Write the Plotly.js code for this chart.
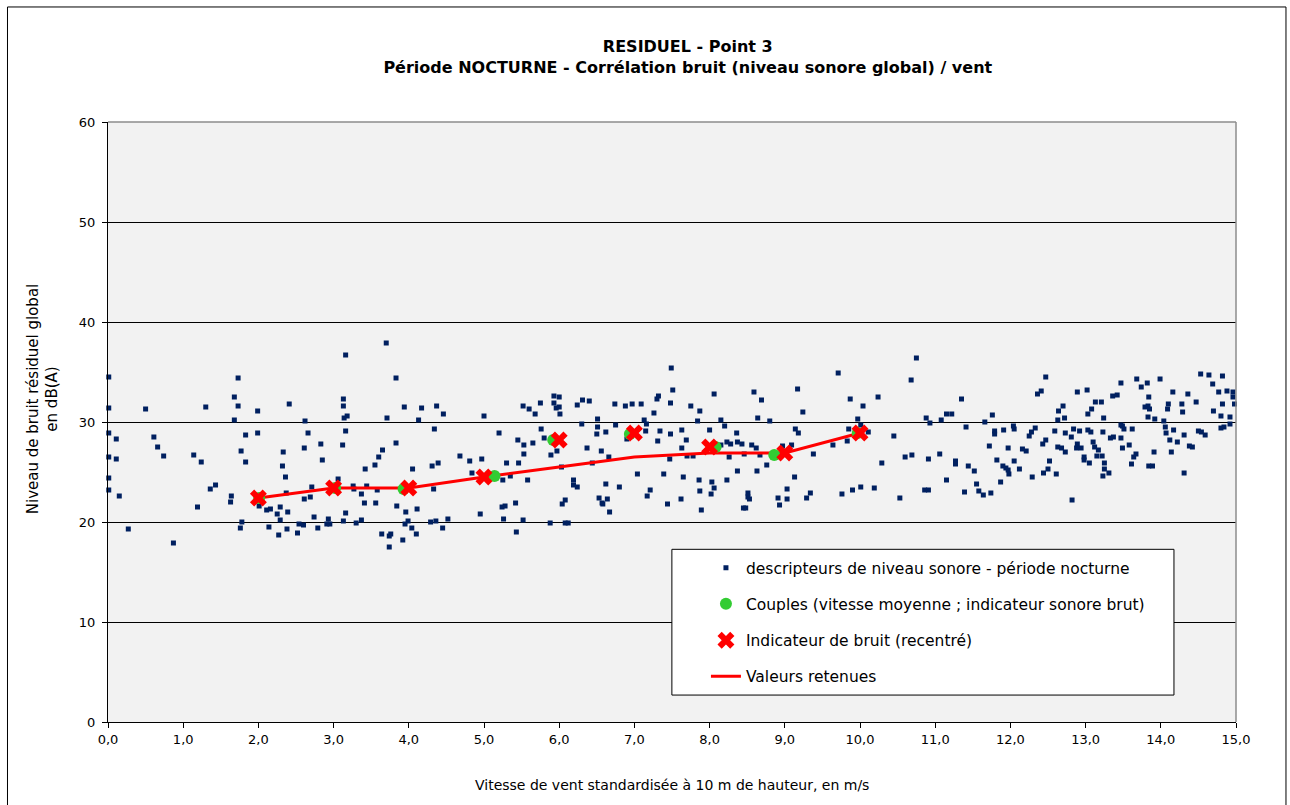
<!DOCTYPE html>
<html>
<head>
<meta charset="utf-8">
<script src="https://cdn.plot.ly/plotly-3.0.1.min.js"></script>
<style>html,body{margin:0;padding:0;background:#fff;}#chart{width:1290px;height:805px;}</style>
</head>
<body>
<div id="chart"></div>
<script>
// Descripteurs de niveau sonore - période nocturne (vitesse m/s, niveau dB(A))
const descX = [
0.01,0.01,0.01,0.11,0.01,0.11,0.01,0.01,0.15,0.27,0.50,0.61,0.66,0.74,0.87,1.14,1.24,1.30,1.36,1.43,
1.19,1.68,1.73,1.73,1.68,1.83,1.77,1.83,1.64,1.63,1.99,1.99,1.78,1.76,2.01,2.11,2.16,2.14,2.27,2.29,
2.25,2.29,2.38,2.39,2.37,2.36,2.32,2.33,2.41,2.52,2.54,2.60,2.61,2.69,2.71,2.61,2.66,2.62,2.83,2.85,
2.74,2.79,2.93,2.91,2.95,3.06,3.16,3.13,3.13,3.14,3.18,3.16,3.12,3.16,3.13,3.26,3.27,3.30,3.37,3.37,
3.41,3.44,3.42,3.55,3.60,3.65,3.58,3.56,3.64,3.76,3.74,3.74,3.70,3.83,3.71,3.83,3.84,
3.94,4.13,4.17,4.37,4.46,4.34,4.05,4.31,4.39,4.33,3.96,4.11,3.99,3.95,4.04,4.10,3.92,4.29,4.36,4.45,
4.52,4.68,4.81,4.97,4.84,5.00,4.95,5.20,5.30,5.35,5.25,5.46,5.53,5.53,5.45,5.65,5.58,5.24,5.28,5.42,
5.26,5.52,5.43,5.52,5.60,5.68,5.75,5.76,5.80,5.93,6.00,5.93,5.96,6.00,6.01,5.89,5.97,6.03,6.19,6.19,
6.24,5.88,6.08,6.12,6.04,6.08,6.24,6.31,6.40,6.30,6.51,6.51,6.50,6.62,6.37,6.56,6.66,6.44,6.62,6.80,
7.04,6.53,6.57,6.64,6.58,6.67,6.74,6.88,6.97,7.09,6.75,6.90,7.13,7.15,7.16,7.26,7.30,7.32,7.48,7.51,
7.49,7.34,7.48,7.31,7.63,7.69,7.63,7.70,7.47,7.39,7.65,7.21,7.17,7.44,7.62,
7.75,7.87,8.06,7.84,8.00,8.15,8.20,8.23,8.28,8.36,8.37,8.43,8.15,8.59,8.69,8.64,8.80,8.56,8.62,8.67,
8.26,8.46,7.78,8.76,8.37,8.63,7.86,8.03,8.23,8.06,7.87,8.02,7.89,8.51,8.51,8.53,8.45,8.48,8.91,8.93,
9.03,9.03,9.13,8.97,9.09,9.14,9.18,9.17,9.24,9.38,9.29,9.34,9.64,9.71,9.87,10.04,9.97,10.01,9.85,9.83,
10.11,10.24,9.76,9.90,10.01,10.19,10.29,10.45,10.53,10.60,10.69,10.68,10.75,10.88,10.93,10.91,11.06,10.86,10.91,11.08,
11.15,11.22,11.27,11.27,11.15,
11.35,11.41,11.44,11.52,11.39,11.55,11.58,11.64,11.74,11.66,11.76,11.79,11.79,11.72,11.82,11.91,11.90,11.94,11.97,11.98,
11.87,11.97,12.04,12.05,12.05,12.12,12.16,12.21,12.29,12.25,12.28,12.33,12.36,12.41,12.47,12.43,12.47,12.52,12.50,12.44,
12.61,12.59,12.63,12.64,12.70,12.72,12.63,12.68,12.73,12.73,12.81,12.82,12.84,12.89,13.02,12.92,12.89,12.88,12.94,12.98,
12.98,13.05,13.03,13.08,13.13,13.21,13.03,13.07,13.10,13.12,13.17,13.15,13.22,13.24,13.23,13.25,13.25,13.23,13.31,13.33,
13.37,13.36,13.42,13.47,13.47,13.49,13.51,13.47,13.49,13.58,13.62,13.61,13.64,13.67,13.68,13.74,13.82,13.84,13.79,13.83,
13.85,13.83,13.92,13.91,13.84,13.89,13.99,14.04,14.06,14.07,14.10,14.09,14.16,14.17,14.12,14.22,14.14,14.28,14.29,14.31,
14.31,14.36,14.38,14.42,14.47,14.50,14.54,14.59,14.53,14.64,14.69,14.77,14.82,14.88,14.70,14.80,14.82,14.80,14.84,14.96,
14.96,14.98,14.92,14.92
];
const descY = [
34.5,31.4,28.9,28.3,26.5,26.3,24.4,23.2,22.6,19.3,31.3,28.5,27.5,26.6,17.9,26.7,26.0,31.5,23.3,23.7,
21.5,32.5,34.4,31.6,30.2,28.7,27.1,26.0,22.6,22.0,31.1,28.9,20.0,19.4,21.6,21.2,21.3,19.5,18.7,21.5,
20.8,20.2,19.3,21.0,22.9,24.5,25.6,27.0,31.8,18.9,19.8,19.7,22.3,22.5,23.5,27.4,28.9,30.1,27.8,26.2,
20.5,19.4,20.3,19.8,19.8,24.3,36.7,32.3,31.6,30.4,30.6,29.1,27.7,20.9,20.1,23.6,23.3,19.9,20.2,22.8,
21.9,23.6,25.3,25.7,26.5,27.2,23.2,21.9,18.8,18.8,18.6,17.5,37.9,34.4,30.4,27.9,21.6,
31.5,30.2,31.4,31.6,30.8,29.3,25.3,25.6,25.9,23.3,21.0,21.3,20.1,19.8,19.4,18.8,18.2,20.0,20.1,19.4,
20.3,26.6,26.1,26.3,24.9,30.6,20.8,28.9,25.9,24.6,24.2,25.9,26.8,27.7,28.2,27.9,24.2,21.5,21.6,21.9,
20.3,20.2,19.0,31.6,31.3,30.8,31.9,29.3,28.4,32.6,32.5,31.9,31.4,31.5,30.8,26.7,27.1,25.5,24.2,23.7,
23.5,19.9,19.9,19.9,21.8,22.2,31.7,32.2,32.1,29.8,30.3,29.5,28.8,29.0,27.4,27.1,26.5,25.9,23.8,23.5,
24.8,22.4,21.9,22.3,21.8,21.0,31.8,31.6,31.8,31.8,29.7,28.3,30.2,29.1,29.8,30.9,32.3,32.6,31.9,33.2,
35.4,29.1,28.8,28.1,29.2,28.2,27.4,26.6,26.3,24.8,24.5,23.2,22.6,21.8,22.3,
31.6,31.1,32.8,30.1,29.2,30.2,29.6,28.0,27.8,28.9,28.0,27.8,27.7,33.0,32.2,30.4,30.1,27.7,27.4,26.7,
26.5,26.8,26.6,25.7,25.1,25.1,24.2,24.0,24.2,23.4,23.1,22.8,21.2,22.9,22.5,22.3,21.4,21.4,22.4,21.7,
22.3,23.3,24.5,27.6,27.7,29.3,28.9,33.3,31.0,26.8,22.4,22.9,27.7,34.9,32.3,31.6,30.3,29.7,29.3,28.1,
29.0,32.5,22.8,23.2,23.5,23.4,25.9,28.6,22.4,26.5,26.7,34.2,36.4,30.4,29.9,26.3,26.8,23.2,23.2,30.2,
30.8,30.8,26.1,25.8,24.2,
32.3,29.5,25.6,25.1,23.0,23.8,23.1,22.7,22.9,30.0,30.7,29.1,28.8,27.6,26.2,29.2,25.6,25.4,25.2,24.8,
24.0,27.4,29.6,29.3,26.1,25.3,27.3,27.1,24.5,28.6,29.0,29.4,32.8,33.1,34.5,27.8,28.2,26.1,25.3,24.9,
24.8,29.1,30.2,31.1,31.6,30.4,27.5,27.4,27.0,28.9,28.5,22.2,29.3,33.0,33.2,29.1,27.8,27.4,27.4,26.5,
26.2,25.9,30.8,31.3,32.0,32.0,29.2,29.0,28.0,27.5,27.2,26.6,26.6,30.4,29.0,25.9,25.3,24.6,24.9,28.4,
28.5,32.6,32.7,33.9,29.7,29.6,29.3,28.4,27.4,27.7,29.3,25.8,26.5,26.8,34.3,33.5,33.9,32.5,31.5,31.6,
31.3,30.5,30.3,27.0,25.6,25.6,34.3,30.1,29.5,28.9,31.8,31.3,33.0,29.2,28.2,28.0,27.0,31.8,31.0,28.7,
24.9,32.8,27.6,27.5,32.0,29.1,29.0,28.7,34.8,34.7,33.8,33.0,34.6,33.1,31.1,30.6,31.8,29.4,29.5,33.0,
32.5,31.8,30.5,29.8
];

// Couples (vitesse moyenne ; indicateur sonore brut)
const couplesX = [2.01, 3.02, 3.93, 5.14, 5.92, 6.94, 8.08, 8.86, 9.97];
const couplesY = [22.4, 23.4, 23.3, 24.6, 28.2, 28.8, 27.5, 26.7, 28.9];

// Indicateur de bruit (recentré)
const classX = [2, 3, 4, 5, 6, 7, 8, 9, 10];
const indicY = [22.4, 23.4, 23.4, 24.5, 28.2, 28.9, 27.5, 26.9, 28.9];

// Valeurs retenues
const retenuY = [22.4, 23.4, 23.4, 24.5, 25.5, 26.5, 26.9, 26.9, 28.9];

// Axes
const xTickVals = [0,1,2,3,4,5,6,7,8,9,10,11,12,13,14,15];
const xTickText = ["0,0","1,0","2,0","3,0","4,0","5,0","6,0","7,0","8,0","9,0","10,0","11,0","12,0","13,0","14,0","15,0"];
const yTickVals = [0,10,20,30,40,50,60];

const seriesNames = [
  "descripteurs de niveau sonore - période nocturne",
  "Couples (vitesse moyenne ; indicateur sonore brut)",
  "Indicateur de bruit (recentré)",
  "Valeurs retenues"
];
const titleLines = ["RESIDUEL - Point 3", "Période NOCTURNE - Corrélation bruit (niveau sonore global) / vent"];
const xTitle = "Vitesse de vent standardisée à 10 m de hauteur, en m/s";
const yTitle = "Niveau de bruit résiduel global<br>en dB(A)";

const F = "DejaVu Sans, Verdana, sans-serif";

const traces = [
  {type:"scatter", mode:"markers", x:descX, y:descY, name:seriesNames[0], legend:"legend",
   marker:{symbol:"square", size:5, color:"#002060", line:{width:0}}, cliponaxis:false},
  {type:"scatter", mode:"lines", x:classX, y:retenuY, name:seriesNames[3], legend:"legend4",
   line:{color:"#ff0000", width:3}, cliponaxis:false},
  {type:"scatter", mode:"markers", x:couplesX, y:couplesY, name:seriesNames[1], legend:"legend2",
   marker:{symbol:"circle", size:12, color:"#33cc33", line:{width:0}}, cliponaxis:false},
  {type:"scatter", mode:"markers", x:classX, y:indicY, name:seriesNames[2], legend:"legend3",
   marker:{symbol:"x", size:15, color:"#ff0000", line:{width:0}}, cliponaxis:false}
];

function leg(yv){
  return {x:0.5301, xanchor:"left", y:yv, yanchor:"middle", bgcolor:"rgba(0,0,0,0)",
          borderwidth:0, font:{family:F, size:15.5, color:"#000"}};
}

const layout = {
  width:1290, height:805,
  margin:{l:108, r:54, t:122, b:83},
  paper_bgcolor:"#ffffff",
  plot_bgcolor:"#f2f2f2",
  showlegend:true,
  title:{
    text:"<b>" + titleLines[0] + "</b><br><b>" + titleLines[1] + "</b>",
    font:{family:F, size:16, color:"#000"},
    x:0.514, xanchor:"center", xref:"paper", yref:"container", y:0.9348, yanchor:"middle"
  },
  xaxis:{
    range:[0,15], tickvals:xTickVals, ticktext:xTickText,
    showgrid:false, zeroline:false, showline:true, linecolor:"#000", linewidth:1,
    ticks:"outside", ticklen:5, tickcolor:"#000", tickwidth:1,
    tickfont:{family:F, size:13, color:"#000"},
    fixedrange:true
  },
  yaxis:{
    range:[0,60], tickvals:yTickVals,
    showgrid:true, gridcolor:"#000", gridwidth:1, zeroline:false,
    showline:true, linecolor:"#000", linewidth:1,
    ticks:"outside", ticklen:5, tickcolor:"#000", tickwidth:1,
    ticklabelstandoff:4,
    tickfont:{family:F, size:13, color:"#000"},
    fixedrange:true
  },
  annotations:[
    {text:xTitle, xref:"paper", yref:"paper", x:0.5, y:-0.105, xanchor:"center", yanchor:"middle",
     showarrow:false, font:{family:F, size:14, color:"#000"}},
    {text:yTitle, xref:"paper", yref:"paper", x:-0.0576, y:0.538, xanchor:"center", yanchor:"middle",
     textangle:-90, showarrow:false, font:{family:F, size:15, color:"#000"}}
  ],
  legend:leg(0.2562),
  legend2:leg(0.1962),
  legend3:leg(0.1355),
  legend4:leg(0.0755),
  shapes:[
    // outer chart frame
    {type:"rect", xref:"paper", yref:"paper", x0:-0.0891, x1:1.0443, y0:-0.16, y1:1.1917,
     line:{color:"#000", width:1}, fillcolor:"rgba(0,0,0,0)", layer:"below"},
    // plot area top & right border (gray)
    {type:"line", xref:"paper", yref:"paper", x0:0, x1:1, y0:1, y1:1, line:{color:"#8c8c8c", width:1.5}, layer:"above"},
    {type:"line", xref:"paper", yref:"paper", x0:1, x1:1, y0:0, y1:1, line:{color:"#8c8c8c", width:1.5}, layer:"above"},
    // legend box
    {type:"rect", xref:"paper", yref:"paper", x0:0.4999, x1:0.9450, y0:0.0449, y1:0.2878,
     line:{color:"#000", width:1}, fillcolor:"#ffffff", layer:"above"}
  ]
};

Plotly.newPlot("chart", traces, layout, {staticPlot:true, displayModeBar:false});
</script>
</body>
</html>
